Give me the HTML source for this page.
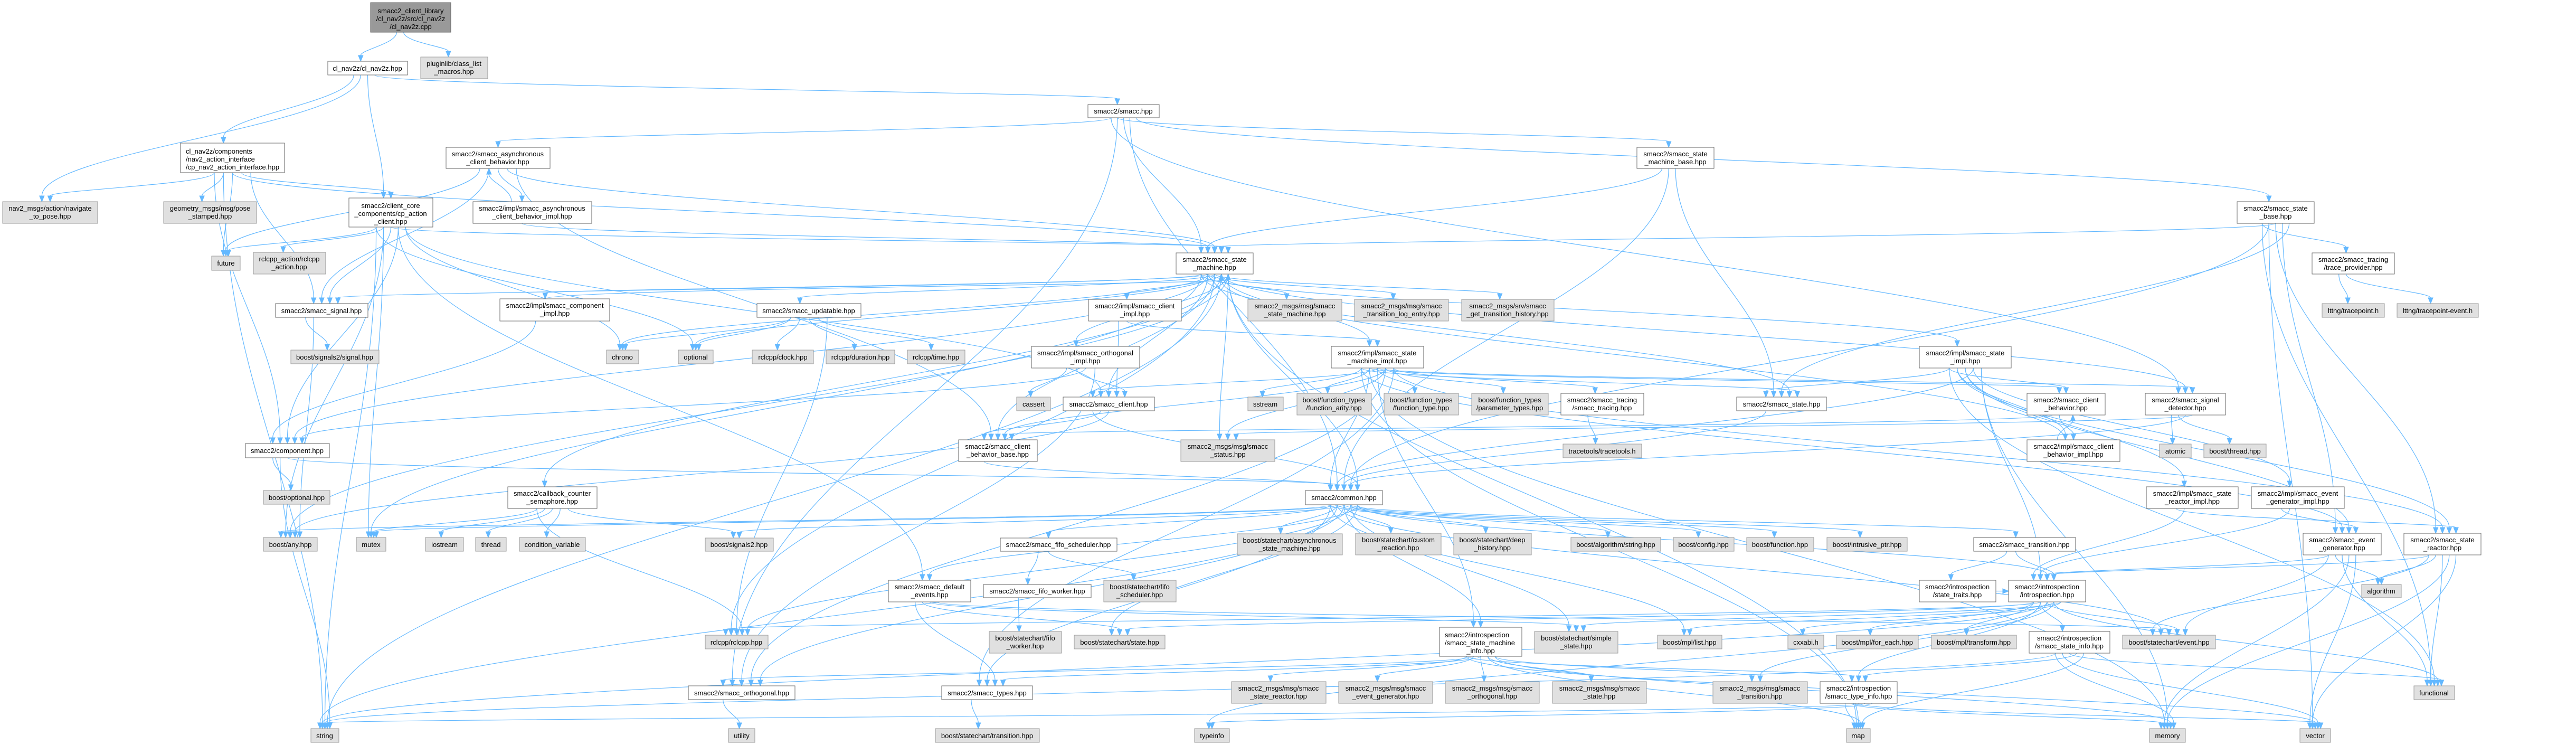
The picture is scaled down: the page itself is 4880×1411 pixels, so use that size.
<!DOCTYPE html>
<html><head><meta charset="utf-8">
<style>
html,body{margin:0;padding:0;background:#fff;}
svg{display:block;}
text{font-family:"Liberation Sans",Helvetica,Arial,sans-serif;font-size:13px;fill:#000;}
.w{fill:#fff;stroke:#666;stroke-width:1;}
.g{fill:#e0e0e0;stroke:#999;stroke-width:1;}
.r{fill:#999;stroke:#666;stroke-width:1;}
.e{fill:none;stroke:#63b8ff;stroke-width:1.2;}
.a{fill:#63b8ff;stroke:#63b8ff;}
</style></head><body>
<svg id="s" width="4880" height="1411" viewBox="0 0 4880 1411" xmlns="http://www.w3.org/2000/svg">
<g id="edges"></g>
<g id="nodes">
<rect class="r" x="702" y="5" width="152" height="56"/><text x="778" y="25" text-anchor="middle">smacc2_client_library</text><text x="778" y="40" text-anchor="middle">/cl_nav2z/src/cl_nav2z</text><text x="778" y="55" text-anchor="middle">/cl_nav2z.cpp</text>
<rect class="w" x="621" y="116" width="151" height="26"/><text x="696" y="134" text-anchor="middle">cl_nav2z/cl_nav2z.hpp</text>
<rect class="g" x="797" y="108" width="127" height="41"/><text x="860" y="125" text-anchor="middle">pluginlib/class_list</text><text x="860" y="140" text-anchor="middle">_macros.hpp</text>
<rect class="w" x="342" y="271" width="197" height="56"/><text x="352" y="291">cl_nav2z/components</text><text x="352" y="306">/nav2_action_interface</text><text x="352" y="321">/cp_nav2_action_interface.hpp</text>
<rect class="w" x="845" y="279" width="197" height="40"/><text x="943" y="296" text-anchor="middle">smacc2/smacc_asynchronous</text><text x="943" y="311" text-anchor="middle">_client_behavior.hpp</text>
<rect class="g" x="5" y="382" width="180" height="41"/><text x="95" y="399" text-anchor="middle">nav2_msgs/action/navigate</text><text x="95" y="414" text-anchor="middle">_to_pose.hpp</text>
<rect class="g" x="310" y="382" width="176" height="41"/><text x="398" y="399" text-anchor="middle">geometry_msgs/msg/pose</text><text x="398" y="414" text-anchor="middle">_stamped.hpp</text>
<rect class="w" x="661" y="375" width="159" height="55"/><text x="740" y="394" text-anchor="middle">smacc2/client_core</text><text x="740" y="409" text-anchor="middle">_components/cp_action</text><text x="740" y="424" text-anchor="middle">_client.hpp</text>
<rect class="w" x="896" y="382" width="225" height="41"/><text x="1008" y="399" text-anchor="middle">smacc2/impl/smacc_asynchronous</text><text x="1008" y="414" text-anchor="middle">_client_behavior_impl.hpp</text>
<rect class="g" x="401" y="485" width="54" height="27"/><text x="428" y="503" text-anchor="middle">future</text>
<rect class="g" x="480" y="478" width="137" height="41"/><text x="548" y="495" text-anchor="middle">rclcpp_action/rclcpp</text><text x="548" y="510" text-anchor="middle">_action.hpp</text>
<rect class="w" x="522" y="575" width="175" height="26"/><text x="609" y="593" text-anchor="middle">smacc2/smacc_signal.hpp</text>
<rect class="w" x="947" y="566" width="208" height="42"/><text x="1051" y="583" text-anchor="middle">smacc2/impl/smacc_component</text><text x="1051" y="598" text-anchor="middle">_impl.hpp</text>
<rect class="g" x="551" y="663" width="167" height="26"/><text x="634" y="681" text-anchor="middle">boost/signals2/signal.hpp</text>
<rect class="g" x="1149" y="663" width="61" height="26"/><text x="1179" y="681" text-anchor="middle">chrono</text>
<rect class="w" x="2061" y="198" width="135" height="25"/><text x="2128" y="215" text-anchor="middle">smacc2/smacc.hpp</text>
<rect class="w" x="2228" y="479" width="146" height="40"/><text x="2301" y="496" text-anchor="middle">smacc2/smacc_state</text><text x="2301" y="511" text-anchor="middle">_machine.hpp</text>
<rect class="w" x="1434" y="575" width="197" height="26"/><text x="1532" y="593" text-anchor="middle">smacc2/smacc_updatable.hpp</text>
<rect class="w" x="2062" y="567" width="176" height="41"/><text x="2150" y="584" text-anchor="middle">smacc2/impl/smacc_client</text><text x="2150" y="599" text-anchor="middle">_impl.hpp</text>
<rect class="g" x="2364" y="567" width="178" height="41"/><text x="2453" y="584" text-anchor="middle">smacc2_msgs/msg/smacc</text><text x="2453" y="599" text-anchor="middle">_state_machine.hpp</text>
<rect class="g" x="1285" y="663" width="66" height="26"/><text x="1318" y="681" text-anchor="middle">optional</text>
<rect class="g" x="1425" y="663" width="116" height="26"/><text x="1483" y="681" text-anchor="middle">rclcpp/clock.hpp</text>
<rect class="g" x="1565" y="663" width="130" height="26"/><text x="1630" y="681" text-anchor="middle">rclcpp/duration.hpp</text>
<rect class="g" x="1719" y="663" width="109" height="26"/><text x="1773" y="681" text-anchor="middle">rclcpp/time.hpp</text>
<rect class="w" x="1954" y="656" width="205" height="41"/><text x="2056" y="673" text-anchor="middle">smacc2/impl/smacc_orthogonal</text><text x="2056" y="688" text-anchor="middle">_impl.hpp</text>
<rect class="w" x="3101" y="279" width="146" height="40"/><text x="3174" y="296" text-anchor="middle">smacc2/smacc_state</text><text x="3174" y="311" text-anchor="middle">_machine_base.hpp</text>
<rect class="g" x="2566" y="567" width="178" height="41"/><text x="2655" y="584" text-anchor="middle">smacc2_msgs/msg/smacc</text><text x="2655" y="599" text-anchor="middle">_transition_log_entry.hpp</text>
<rect class="g" x="2769" y="567" width="175" height="41"/><text x="2856" y="584" text-anchor="middle">smacc2_msgs/srv/smacc</text><text x="2856" y="599" text-anchor="middle">_get_transition_history.hpp</text>
<rect class="w" x="2522" y="656" width="175" height="41"/><text x="2609" y="673" text-anchor="middle">smacc2/impl/smacc_state</text><text x="2609" y="688" text-anchor="middle">_machine_impl.hpp</text>
<rect class="w" x="3636" y="656" width="174" height="41"/><text x="3723" y="673" text-anchor="middle">smacc2/impl/smacc_state</text><text x="3723" y="688" text-anchor="middle">_impl.hpp</text>
<rect class="w" x="4238" y="382" width="146" height="41"/><text x="4311" y="399" text-anchor="middle">smacc2/smacc_state</text><text x="4311" y="414" text-anchor="middle">_base.hpp</text>
<rect class="w" x="4380" y="479" width="156" height="40"/><text x="4458" y="496" text-anchor="middle">smacc2/smacc_tracing</text><text x="4458" y="511" text-anchor="middle">/trace_provider.hpp</text>
<rect class="g" x="4399" y="575" width="118" height="26"/><text x="4458" y="593" text-anchor="middle">lttng/tracepoint.h</text>
<rect class="g" x="4541" y="575" width="154" height="26"/><text x="4618" y="593" text-anchor="middle">lttng/tracepoint-event.h</text>
<rect class="w" x="465" y="840" width="159" height="27"/><text x="544" y="858" text-anchor="middle">smacc2/component.hpp</text>
<rect class="g" x="499" y="929" width="126" height="26"/><text x="562" y="947" text-anchor="middle">boost/optional.hpp</text>
<rect class="w" x="962" y="922" width="169" height="41"/><text x="1046" y="939" text-anchor="middle">smacc2/callback_counter</text><text x="1046" y="954" text-anchor="middle">_semaphore.hpp</text>
<rect class="g" x="499" y="1018" width="102" height="26"/><text x="550" y="1036" text-anchor="middle">boost/any.hpp</text>
<rect class="g" x="675" y="1018" width="56" height="26"/><text x="703" y="1036" text-anchor="middle">mutex</text>
<rect class="g" x="806" y="1018" width="72" height="26"/><text x="842" y="1036" text-anchor="middle">iostream</text>
<rect class="g" x="901" y="1018" width="58" height="26"/><text x="930" y="1036" text-anchor="middle">thread</text>
<rect class="g" x="984" y="1018" width="125" height="26"/><text x="1046" y="1036" text-anchor="middle">condition_variable</text>
<rect class="g" x="589" y="1380" width="53" height="26"/><text x="615" y="1398" text-anchor="middle">string</text>
<rect class="g" x="1926" y="752" width="64" height="26"/><text x="1958" y="770" text-anchor="middle">cassert</text>
<rect class="w" x="2014" y="752" width="173" height="26"/><text x="2100" y="770" text-anchor="middle">smacc2/smacc_client.hpp</text>
<rect class="g" x="2364" y="752" width="67" height="26"/><text x="2397" y="770" text-anchor="middle">sstream</text>
<rect class="w" x="1816" y="833" width="149" height="41"/><text x="1890" y="850" text-anchor="middle">smacc2/smacc_client</text><text x="1890" y="865" text-anchor="middle">_behavior_base.hpp</text>
<rect class="g" x="2237" y="833" width="178" height="41"/><text x="2326" y="850" text-anchor="middle">smacc2_msgs/msg/smacc</text><text x="2326" y="865" text-anchor="middle">_status.hpp</text>
<rect class="g" x="1336" y="1019" width="129" height="25"/><text x="1400" y="1036" text-anchor="middle">boost/signals2.hpp</text>
<rect class="w" x="1895" y="1019" width="221" height="25"/><text x="2005" y="1036" text-anchor="middle">smacc2/smacc_fifo_scheduler.hpp</text>
<rect class="g" x="2344" y="1011" width="199" height="40"/><text x="2443" y="1028" text-anchor="middle">boost/statechart/asynchronous</text><text x="2443" y="1043" text-anchor="middle">_state_machine.hpp</text>
<rect class="w" x="1683" y="1099" width="156" height="41"/><text x="1761" y="1116" text-anchor="middle">smacc2/smacc_default</text><text x="1761" y="1131" text-anchor="middle">_events.hpp</text>
<rect class="w" x="1863" y="1107" width="204" height="25"/><text x="1965" y="1124" text-anchor="middle">smacc2/smacc_fifo_worker.hpp</text>
<rect class="g" x="2091" y="1099" width="137" height="41"/><text x="2159" y="1116" text-anchor="middle">boost/statechart/fifo</text><text x="2159" y="1131" text-anchor="middle">_scheduler.hpp</text>
<rect class="g" x="1874" y="1196" width="137" height="41"/><text x="1942" y="1213" text-anchor="middle">boost/statechart/fifo</text><text x="1942" y="1228" text-anchor="middle">_worker.hpp</text>
<rect class="g" x="2035" y="1203" width="172" height="26"/><text x="2121" y="1221" text-anchor="middle">boost/statechart/state.hpp</text>
<rect class="g" x="1336" y="1203" width="119" height="26"/><text x="1395" y="1221" text-anchor="middle">rclcpp/rclcpp.hpp</text>
<rect class="w" x="1304" y="1299" width="202" height="26"/><text x="1405" y="1317" text-anchor="middle">smacc2/smacc_orthogonal.hpp</text>
<rect class="w" x="1784" y="1299" width="172" height="26"/><text x="1870" y="1317" text-anchor="middle">smacc2/smacc_types.hpp</text>
<rect class="g" x="2333" y="1291" width="179" height="41"/><text x="2422" y="1308" text-anchor="middle">smacc2_msgs/msg/smacc</text><text x="2422" y="1323" text-anchor="middle">_state_reactor.hpp</text>
<rect class="g" x="1380" y="1380" width="50" height="26"/><text x="1405" y="1398" text-anchor="middle">utility</text>
<rect class="g" x="1772" y="1380" width="197" height="26"/><text x="1870" y="1398" text-anchor="middle">boost/statechart/transition.hpp</text>
<rect class="g" x="2263" y="1380" width="66" height="26"/><text x="2296" y="1398" text-anchor="middle">typeinfo</text>
<rect class="g" x="2457" y="745" width="141" height="41"/><text x="2527" y="762" text-anchor="middle">boost/function_types</text><text x="2527" y="777" text-anchor="middle">/function_arity.hpp</text>
<rect class="g" x="2622" y="745" width="141" height="41"/><text x="2692" y="762" text-anchor="middle">boost/function_types</text><text x="2692" y="777" text-anchor="middle">/function_type.hpp</text>
<rect class="g" x="2788" y="745" width="145" height="41"/><text x="2860" y="762" text-anchor="middle">boost/function_types</text><text x="2860" y="777" text-anchor="middle">/parameter_types.hpp</text>
<rect class="w" x="2957" y="745" width="157" height="41"/><text x="3035" y="762" text-anchor="middle">smacc2/smacc_tracing</text><text x="3035" y="777" text-anchor="middle">/smacc_tracing.hpp</text>
<rect class="w" x="3290" y="752" width="170" height="26"/><text x="3375" y="770" text-anchor="middle">smacc2/smacc_state.hpp</text>
<rect class="g" x="2961" y="841" width="149" height="26"/><text x="3035" y="859" text-anchor="middle">tracetools/tracetools.h</text>
<rect class="w" x="2473" y="929" width="146" height="27"/><text x="2546" y="947" text-anchor="middle">smacc2/common.hpp</text>
<rect class="g" x="2568" y="1010" width="162" height="41"/><text x="2649" y="1027" text-anchor="middle">boost/statechart/custom</text><text x="2649" y="1042" text-anchor="middle">_reaction.hpp</text>
<rect class="g" x="2754" y="1010" width="147" height="41"/><text x="2827" y="1027" text-anchor="middle">boost/statechart/deep</text><text x="2827" y="1042" text-anchor="middle">_history.hpp</text>
<rect class="g" x="2976" y="1018" width="170" height="26"/><text x="3061" y="1036" text-anchor="middle">boost/algorithm/string.hpp</text>
<rect class="g" x="3170" y="1018" width="115" height="26"/><text x="3227" y="1036" text-anchor="middle">boost/config.hpp</text>
<rect class="g" x="3309" y="1018" width="127" height="26"/><text x="3372" y="1036" text-anchor="middle">boost/function.hpp</text>
<rect class="g" x="3461" y="1018" width="152" height="26"/><text x="3537" y="1036" text-anchor="middle">boost/intrusive_ptr.hpp</text>
<rect class="w" x="2727" y="1188" width="156" height="55"/><text x="2737" y="1207">smacc2/introspection</text><text x="2737" y="1222">/smacc_state_machine</text><text x="2805" y="1237" text-anchor="middle">_info.hpp</text>
<rect class="g" x="2907" y="1196" width="158" height="41"/><text x="2986" y="1213" text-anchor="middle">boost/statechart/simple</text><text x="2986" y="1228" text-anchor="middle">_state.hpp</text>
<rect class="g" x="3140" y="1203" width="122" height="26"/><text x="3201" y="1221" text-anchor="middle">boost/mpl/list.hpp</text>
<rect class="g" x="3387" y="1203" width="68" height="26"/><text x="3421" y="1221" text-anchor="middle">cxxabi.h</text>
<rect class="g" x="3479" y="1203" width="155" height="26"/><text x="3556" y="1221" text-anchor="middle">boost/mpl/for_each.hpp</text>
<rect class="g" x="3659" y="1203" width="161" height="26"/><text x="3739" y="1221" text-anchor="middle">boost/mpl/transform.hpp</text>
<rect class="g" x="2536" y="1291" width="178" height="41"/><text x="2625" y="1308" text-anchor="middle">smacc2_msgs/msg/smacc</text><text x="2625" y="1323" text-anchor="middle">_event_generator.hpp</text>
<rect class="g" x="2738" y="1291" width="178" height="41"/><text x="2827" y="1308" text-anchor="middle">smacc2_msgs/msg/smacc</text><text x="2827" y="1323" text-anchor="middle">_orthogonal.hpp</text>
<rect class="g" x="2941" y="1291" width="178" height="41"/><text x="3030" y="1308" text-anchor="middle">smacc2_msgs/msg/smacc</text><text x="3030" y="1323" text-anchor="middle">_state.hpp</text>
<rect class="g" x="3245" y="1291" width="179" height="41"/><text x="3334" y="1308" text-anchor="middle">smacc2_msgs/msg/smacc</text><text x="3334" y="1323" text-anchor="middle">_transition.hpp</text>
<rect class="w" x="3448" y="1291" width="146" height="41"/><text x="3521" y="1308" text-anchor="middle">smacc2/introspection</text><text x="3521" y="1323" text-anchor="middle">/smacc_type_info.hpp</text>
<rect class="g" x="3498" y="1380" width="45" height="26"/><text x="3520" y="1398" text-anchor="middle">map</text>
<rect class="w" x="3636" y="1099" width="145" height="41"/><text x="3708" y="1116" text-anchor="middle">smacc2/introspection</text><text x="3708" y="1131" text-anchor="middle">/state_traits.hpp</text>
<rect class="w" x="3840" y="745" width="148" height="41"/><text x="3914" y="762" text-anchor="middle">smacc2/smacc_client</text><text x="3914" y="777" text-anchor="middle">_behavior.hpp</text>
<rect class="w" x="4064" y="745" width="152" height="41"/><text x="4140" y="762" text-anchor="middle">smacc2/smacc_signal</text><text x="4140" y="777" text-anchor="middle">_detector.hpp</text>
<rect class="w" x="3840" y="833" width="176" height="41"/><text x="3928" y="850" text-anchor="middle">smacc2/impl/smacc_client</text><text x="3928" y="865" text-anchor="middle">_behavior_impl.hpp</text>
<rect class="g" x="4091" y="841" width="60" height="26"/><text x="4121" y="859" text-anchor="middle">atomic</text>
<rect class="g" x="4175" y="841" width="118" height="26"/><text x="4234" y="859" text-anchor="middle">boost/thread.hpp</text>
<rect class="w" x="4066" y="922" width="174" height="41"/><text x="4153" y="939" text-anchor="middle">smacc2/impl/smacc_state</text><text x="4153" y="954" text-anchor="middle">_reactor_impl.hpp</text>
<rect class="w" x="4265" y="922" width="176" height="41"/><text x="4353" y="939" text-anchor="middle">smacc2/impl/smacc_event</text><text x="4353" y="954" text-anchor="middle">_generator_impl.hpp</text>
<rect class="w" x="3739" y="1018" width="193" height="26"/><text x="3835" y="1036" text-anchor="middle">smacc2/smacc_transition.hpp</text>
<rect class="w" x="4363" y="1010" width="148" height="41"/><text x="4437" y="1027" text-anchor="middle">smacc2/smacc_event</text><text x="4437" y="1042" text-anchor="middle">_generator.hpp</text>
<rect class="w" x="4554" y="1010" width="146" height="41"/><text x="4627" y="1027" text-anchor="middle">smacc2/smacc_state</text><text x="4627" y="1042" text-anchor="middle">_reactor.hpp</text>
<rect class="w" x="3805" y="1099" width="146" height="41"/><text x="3878" y="1116" text-anchor="middle">smacc2/introspection</text><text x="3878" y="1131" text-anchor="middle">/introspection.hpp</text>
<rect class="g" x="4474" y="1107" width="75" height="25"/><text x="4511" y="1124" text-anchor="middle">algorithm</text>
<rect class="w" x="3844" y="1196" width="153" height="41"/><text x="3920" y="1213" text-anchor="middle">smacc2/introspection</text><text x="3920" y="1228" text-anchor="middle">/smacc_state_info.hpp</text>
<rect class="g" x="4021" y="1203" width="176" height="26"/><text x="4109" y="1221" text-anchor="middle">boost/statechart/event.hpp</text>
<rect class="g" x="4573" y="1299" width="77" height="26"/><text x="4611" y="1317" text-anchor="middle">functional</text>
<rect class="g" x="4072" y="1380" width="68" height="26"/><text x="4106" y="1398" text-anchor="middle">memory</text>
<rect class="g" x="4357" y="1380" width="58" height="26"/><text x="4386" y="1398" text-anchor="middle">vector</text>
</g>
<script><![CDATA[
(function(){
var N={
root:[702,5,152,56],nav:[621,116,151,26],plug:[797,108,127,41],cpn:[342,271,197,56],acb:[845,279,197,40],
ntp:[5,382,180,41],geo:[310,382,176,41],cpa:[661,375,159,55],acbi:[896,382,225,41],fut:[401,485,54,27],
rca:[480,478,137,41],sig:[522,575,175,26],compi:[947,566,208,42],bss:[551,663,167,26],chr:[1149,663,61,26],
smacc:[2061,198,135,25],sm:[2228,479,146,40],upd:[1434,575,197,26],cli:[2062,567,176,41],msm:[2364,567,178,41],
opt:[1285,663,66,26],clk:[1425,663,116,26],dur:[1565,663,130,26],tim:[1719,663,109,26],orti:[1954,656,205,41],
smb:[3101,279,146,40],mtl:[2566,567,178,41],mgt:[2769,567,175,41],smi:[2522,656,175,41],sti:[3636,656,174,41],
stb:[4238,382,146,41],trp:[4380,479,156,40],ltt:[4399,575,118,26],lte:[4541,575,154,26],comp:[465,840,159,27],
bop:[499,929,126,26],ccs:[962,922,169,41],bany:[499,1018,102,26],mtx:[675,1018,56,26],ios:[806,1018,72,26],
thr:[901,1018,58,26],cv:[984,1018,125,26],str:[589,1380,53,26],cas:[1926,752,64,26],cl:[2014,752,173,26],
sst:[2364,752,67,26],cbb:[1816,833,149,41],mst:[2237,833,178,41],bs2:[1336,1019,129,25],ffs:[1895,1019,221,25],
asm:[2344,1011,199,40],dev:[1683,1099,156,41],ffw:[1863,1107,204,25],bfs:[2091,1099,137,41],bfw:[1874,1196,137,41],
bst:[2035,1203,172,26],rcl:[1336,1203,119,26],ort:[1304,1299,202,26],typ:[1784,1299,172,26],msr:[2333,1291,179,41],
utl:[1380,1380,50,26],btr:[1772,1380,197,26],tin:[2263,1380,66,26],fa:[2457,745,141,41],ft:[2622,745,141,41],
fp:[2788,745,145,41],trc:[2957,745,157,41],st:[3290,752,170,26],ttl:[2961,841,149,26],com:[2473,929,146,27],
bcr:[2568,1010,162,41],bdh:[2754,1010,147,41],bas:[2976,1018,170,26],bcf:[3170,1018,115,26],bfn:[3309,1018,127,26],
bip:[3461,1018,152,26],smif:[2727,1188,156,55],bss2:[2907,1196,158,41],mpl:[3140,1203,122,26],cxa:[3387,1203,68,26],
mfe:[3479,1203,155,26],mtr:[3659,1203,161,26],meg:[2536,1291,178,41],mor:[2738,1291,178,41],mss:[2941,1291,178,41],
mtn:[3245,1291,179,41],tyi:[3448,1291,146,41],map:[3498,1380,45,26],stt:[3636,1099,145,41],cb:[3840,745,148,41],
sd:[4064,745,152,41],cbi:[3840,833,176,41],atm:[4091,841,60,26],bth:[4175,841,118,26],sri:[4066,922,174,41],
egi:[4265,922,176,41],tr:[3739,1018,193,26],eg:[4363,1010,148,41],sr:[4554,1010,146,41],intr:[3805,1099,146,41],
alg:[4474,1107,75,25],sinf:[3844,1196,153,41],bev:[4021,1203,176,26],fun:[4573,1299,77,26],mem:[4072,1380,68,26],vec:[4357,1380,58,26]};
var E={
root:"nav plug",nav:"cpn ntp cpa smacc",cpn:"ntp geo fut cpa sig comp str sm",
acb:"fut sig acbi sm cbb",acbi:"acb sm",cpa:"fut rca sig comp chr opt mtx sm dev cl str bany",
smacc:"acb smb sm com stb sd ort",smb:"sm com st",stb:"trp com sr eg st fun vec sm",trp:"ltt lte",
sm:"sig comp upd cli orti msm mtl mgt smi com st cl cbb ccs bany mtx chr opt str mst sti compi rcl sd map",
upd:"opt clk dur tim rcl chr",cli:"cl smi",orti:"cas cl comp ort",
smi:"sst fa ft fp trc st cb sd mst sr eg com smif ort typ map mem cl cbb",
sti:"cb cbi sri egi intr st sr eg com mem fun",trc:"ttl",st:"com",cb:"cbb cbi",cbi:"cb sm",
sd:"atm bth com mst",cl:"com cbb bany",cbb:"com",comp:"bop str com",compi:"comp sm",
ccs:"mtx ios thr cv bs2 rcl",sig:"bss bany",
com:"bany mtx bs2 rcl dev ffs asm bcr bdh bas bcf bfn bip tr intr typ ort smif bss2 bst mpl bev str",
ffs:"ffw bfs",ffw:"bfw",dev:"typ bst bss2 bev",typ:"btr",ort:"utl",
smif:"msr meg mor mss mtn tyi ort typ map mem vec",tr:"stt intr",stt:"intr",
intr:"mtr sinf bev mpl cxa mfe rcl tin mtn bss2 bst tyi str fun",
sinf:"mem vec fun tyi map str",tyi:"map mem vec str tin",sri:"sr intr",egi:"eg intr",
eg:"intr alg fun mem vec bev",sr:"intr alg fun mem vec bev"};
var g=document.getElementById('edges'),ns='http://www.w3.org/2000/svg',out='';
function pt(n,side,off){var r=N[n];var cx=r[0]+r[2]/2+off*r[2]*0.35;
 if(side=='b')return [cx,r[1]+r[3]];if(side=='t')return [cx,r[1]];
 if(side=='l')return [r[0],r[1]+r[3]/2];return [r[0]+r[2],r[1]+r[3]/2];}
var cnt={};
for(var s in E){var ts=E[s].split(' ');for(var i=0;i<ts.length;i++){var t=ts[i];if(!N[t]||!N[s])continue;
 var a=N[s],b=N[t];var p,q,c1,c2;
 var off1=((i%5)-2)/4, off2=(((cnt[t]=(cnt[t]||0)+1)%5)-2)/4;
 if(b[1]>a[1]+a[3]+5){p=pt(s,'b',off1);q=pt(t,'t',off2);var dy=(q[1]-p[1])*0.4;c1=[p[0],p[1]+dy];c2=[q[0],q[1]-dy];}
 else if(b[1]+b[3]<a[1]-5){p=pt(s,'t',off1);q=pt(t,'b',off2);var dy=(p[1]-q[1])*0.4;c1=[p[0],p[1]-dy];c2=[q[0],q[1]+dy];}
 else if(b[0]>a[0]){p=pt(s,'r',0);q=pt(t,'l',0);c1=[p[0]+40,p[1]];c2=[q[0]-40,q[1]];}
 else {p=pt(s,'l',0);q=pt(t,'r',0);c1=[p[0]-40,p[1]];c2=[q[0]+40,q[1]];}
 var dx=q[0]-c2[0],dyy=q[1]-c2[1],L=Math.sqrt(dx*dx+dyy*dyy)||1;dx/=L;dyy/=L;
 var e=[q[0]-dx*11,q[1]-dyy*11];
 out+='<path class="e" d="M'+p[0].toFixed(1)+','+p[1].toFixed(1)+' C'+c1[0].toFixed(1)+','+c1[1].toFixed(1)+' '+c2[0].toFixed(1)+','+c2[1].toFixed(1)+' '+e[0].toFixed(1)+','+e[1].toFixed(1)+'"/>';
 out+='<polygon class="a" points="'+q[0].toFixed(1)+','+q[1].toFixed(1)+' '+(e[0]-dyy*4.5).toFixed(1)+','+(e[1]+dx*4.5).toFixed(1)+' '+(e[0]+dyy*4.5).toFixed(1)+','+(e[1]-dx*4.5).toFixed(1)+'"/>';
}}
g.innerHTML=out;
})();
]]></script>
</svg>
</body></html>
